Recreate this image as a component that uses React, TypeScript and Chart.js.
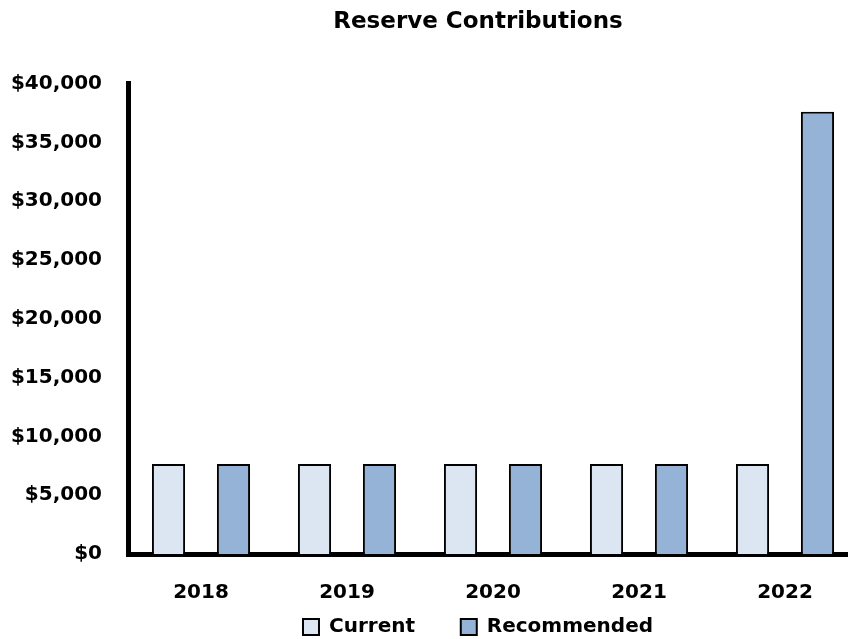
import { useEffect, useRef } from "react";
import { Chart, registerables } from "chart.js";

Chart.register(...registerables);

const categories = ["2018", "2019", "2020", "2021", "2022"];
const currentValues = [7650, 7650, 7650, 7650, 7650];
const recommendedValues = [7650, 7650, 7650, 7650, 37600];
const yMin = 0;
const yMax = 40000;
const yStep = 5000;
const titleText = "Reserve Contributions";
const seriesNames = ["Current", "Recommended"];

const FONT = "'DejaVu Sans', sans-serif";

export default function App() {
  const ref = useRef<HTMLCanvasElement | null>(null);

  useEffect(() => {
    const canvas = ref.current;
    if (!canvas) return;
    const chart = new Chart(canvas, {
      type: "bar",
      data: {
        labels: categories,
        datasets: [
          {
            label: seriesNames[0],
            data: currentValues,
            backgroundColor: "#DCE6F2",
            borderColor: "#000000",
            borderWidth: 2,
            categoryPercentage: 0.89,
            barPercentage: 0.51,
          },
          {
            label: seriesNames[1],
            data: recommendedValues,
            backgroundColor: "#95B3D7",
            borderColor: "#000000",
            borderWidth: 2,
            categoryPercentage: 0.89,
            barPercentage: 0.51,
          },
        ],
      },
      options: {
        responsive: false,
        animation: false,
        layout: { padding: { left: 8, right: 8, top: 0, bottom: -8 } },
        plugins: {
          title: {
            display: true,
            text: titleText,
            color: "#000",
            font: { family: FONT, size: 23, weight: "bold" },
            padding: { top: 8, bottom: 48 },
          },
          legend: {
            position: "bottom",
            labels: {
              color: "#000",
              font: { family: FONT, size: 20, weight: "bold" },
              boxWidth: 16,
              boxHeight: 16,
              padding: 4,
              generateLabels: (c: any) => {
                const items = Chart.defaults.plugins.legend.labels.generateLabels(c);
                return items.map((it: any, i: number) =>
                  i < items.length - 1 ? { ...it, text: it.text + "      " } : it
                );
              },
            },
          },
          tooltip: { enabled: false },
        },
        scales: {
          x: {
            afterFit: (scale: any) => {
              scale.height = 59;
            },
            grid: { display: false, drawTicks: false },
            border: { display: true, color: "#000", width: 5 },
            ticks: {
              color: "#000",
              font: { family: FONT, size: 20, weight: "bold" },
              padding: 27,
            },
          },
          y: {
            min: yMin,
            max: yMax,
            afterFit: (scale: any) => {
              scale.width = 120;
            },
            grid: { display: false, drawTicks: false },
            border: { display: true, color: "#000", width: 5 },
            ticks: {
              stepSize: yStep,
              color: "#000",
              padding: 26,
              font: { family: FONT, size: 20, weight: "bold" },
              callback: (v: any) => "$" + Number(v).toLocaleString("en-US"),
            },
          },
          spacer: {
            type: "linear",
            position: "right",
            display: true,
            afterFit: (scale: any) => {
              scale.width = 90;
            },
            grid: { display: false, drawTicks: false },
            border: { display: false },
            ticks: { display: false },
          },
        },
      },
    });
    return () => chart.destroy();
  }, []);

  return (
    <div
      style={{
        position: "fixed",
        left: 0,
        top: 0,
        width: 848,
        height: 639,
        overflow: "hidden",
        background: "#fff",
      }}
    >
      <canvas ref={ref} width={956} height={639} style={{ display: "block" }} />
    </div>
  );
}
